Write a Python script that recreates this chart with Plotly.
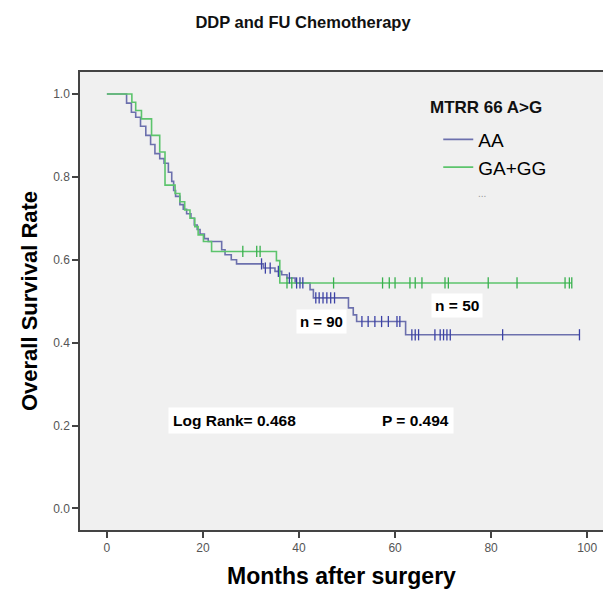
import numpy as np
import plotly.graph_objects as go

# ---- data ----
aa_event_t = [4.1, 5.1, 6.0, 7.0, 8.1, 9.1, 10.0, 11.0, 11.9, 12.8, 13.5, 13.9, 14.3, 15.2, 15.9,
              16.6, 17.5, 18.2, 18.8, 19.4, 20.3, 21.1, 23.9, 24.6, 25.9, 27.0, 32.6, 35.0, 36.4,
              37.5, 39.2, 42.3, 43.0, 50.3, 51.3, 52.0, 62.2]
aa_event_s = [0.978, 0.956, 0.944, 0.922, 0.900, 0.878, 0.856, 0.844, 0.833, 0.811, 0.789, 0.767,
              0.753, 0.733, 0.722, 0.711, 0.700, 0.684, 0.673, 0.662, 0.651, 0.644, 0.624, 0.612,
              0.600, 0.590, 0.580, 0.572, 0.564, 0.556, 0.544, 0.528, 0.508, 0.484, 0.467, 0.451, 0.419]
aa_censor_t = [32.2, 33.0, 34.0, 35.7, 38.0, 39.5, 40.2, 40.8, 43.5, 44.2, 45.0, 45.8, 46.6, 47.4,
               53.1, 54.4, 55.8, 57.2, 58.6, 60.4, 61.0, 63.5, 64.2, 64.9, 68.3, 69.4, 70.1, 70.8,
               71.5, 82.4, 98.4]
aa_end = 98.5

gg_event_t = [5.2, 6.0, 7.2, 9.3, 11.0, 12.1, 14.2, 15.2, 16.2, 17.3, 18.3, 19.0, 20.1, 21.8, 35.3, 36.0]
gg_event_s = [0.98, 0.96, 0.94, 0.90, 0.86, 0.78, 0.76, 0.74, 0.72, 0.70, 0.68, 0.66, 0.644, 0.62,
              0.598, 0.544]
gg_censor_t = [28.3, 31.2, 31.9, 37.5, 38.5, 47.2, 57.4, 58.8, 60.0, 63.1, 64.2, 65.6, 70.4, 71.1,
               79.4, 85.4, 95.4, 96.3, 96.8]
gg_end = 96.8

x_ticks = [0, 20, 40, 60, 80, 100]
y_ticks = [0.0, 0.2, 0.4, 0.6, 0.8, 1.0]

BLUE = "#6c70ad"
BLUE_DARK = "#3c42a6"
GREEN = "#5cc46c"
GREEN_DARK = "#39b04e"


def step_xy(ev_t, ev_s, end):
    xs = [0.0] + list(ev_t) + [end]
    ys = [1.0] + list(ev_s) + [ev_s[-1]]
    return xs, ys


def surv_at(ev_t, ev_s, times):
    t = np.array(ev_t)
    s = np.array([1.0] + list(ev_s))
    idx = np.searchsorted(t, np.array(times), side="right")
    return s[idx]


fig = go.Figure()

ax, ay = step_xy(aa_event_t, aa_event_s, aa_end)
gx, gy = step_xy(gg_event_t, gg_event_s, gg_end)

fig.add_trace(go.Scatter(x=ax, y=ay, mode="lines", line=dict(color=BLUE, width=1.6, shape="hv"),
                         name="AA", showlegend=True))
fig.add_trace(go.Scatter(x=gx, y=gy, mode="lines", line=dict(color=GREEN, width=1.6, shape="hv"),
                         name="GA+GG", showlegend=True))
fig.add_trace(go.Scatter(x=aa_censor_t, y=surv_at(aa_event_t, aa_event_s, aa_censor_t), mode="markers",
                         marker=dict(symbol="line-ns", size=8, line=dict(color=BLUE_DARK, width=1.3)),
                         showlegend=False, hoverinfo="skip"))
fig.add_trace(go.Scatter(x=gg_censor_t, y=surv_at(gg_event_t, gg_event_s, gg_censor_t), mode="markers",
                         marker=dict(symbol="line-ns", size=8, line=dict(color=GREEN_DARK, width=1.3)),
                         showlegend=False, hoverinfo="skip"))

FONT = "Liberation Sans, Arial, sans-serif"

fig.update_layout(
    width=606, height=589,
    margin=dict(l=80, r=3, t=72, b=59),
    paper_bgcolor="white",
    plot_bgcolor="#f0f0f0",
    font=dict(family=FONT, color="black"),
    title=dict(text="<b>DDP and FU Chemotherapy</b>", x=0.5, xanchor="center", y=0.962, yanchor="middle",
               font=dict(size=16.5, family=FONT, color="#111")),
    xaxis=dict(range=[-5.6, 103.3], tickvals=x_ticks, ticktext=[str(v) for v in x_ticks],
               showgrid=False, zeroline=False, showline=True, linecolor="#444", linewidth=1.5,
               mirror=True, ticks="outside", ticklen=6, tickcolor="#444", tickwidth=1.5,
               tickfont=dict(size=12, color="#555", family=FONT),
               title=dict(text="<b>Months after surgery</b>", font=dict(size=23, family=FONT, color="black"),
                          standoff=14)),
    yaxis=dict(range=[-0.052, 1.053], tickvals=y_ticks, ticktext=[f"{v:.1f}" for v in y_ticks],
               showgrid=False, zeroline=False, showline=True, linecolor="#444", linewidth=1.5,
               ticks="outside", ticklen=6, tickcolor="#444", tickwidth=1.5,
               tickfont=dict(size=12, color="#555", family=FONT),
               title=dict(text="<b>Overall Survival Rate</b>", font=dict(size=22, family=FONT, color="black"),
                          standoff=9)),
    legend=dict(x=0.685, y=0.894, xanchor="left", yanchor="top", bgcolor="rgba(0,0,0,0)",
                font=dict(size=19, family=FONT, color="black"), tracegroupgap=0, itemwidth=30),
    showlegend=True,
)

fig.add_annotation(x=0.777, y=0.922, xref="paper", yref="paper", text="<b>MTRR 66 A>G</b>", showarrow=False,
                   font=dict(size=17, family=FONT, color="#111"), xanchor="center", yanchor="middle")
fig.add_annotation(x=0.768, y=0.735, xref="paper", yref="paper", text="...", showarrow=False,
                   font=dict(size=10, color="#999", family=FONT), xanchor="center", yanchor="middle")

fig.add_annotation(x=44.7, y=0.45, text="<b>n = 90</b>", showarrow=False, bgcolor="white",
                   font=dict(size=15, family=FONT, color="black"), borderpad=3)
fig.add_annotation(x=72.8, y=0.49, text="<b>n = 50</b>", showarrow=False, bgcolor="white",
                   font=dict(size=15.5, family=FONT, color="black"), borderpad=3)
fig.add_annotation(x=12.7, y=0.213, xanchor="left",
                   text="<b>Log Rank= 0.468</b>" + "&nbsp;" * 20 + "<b>P = 0.494</b>",
                   showarrow=False, bgcolor="white", font=dict(size=15.5, family=FONT, color="black"),
                   borderpad=4)

fig.write_html("out.html")
